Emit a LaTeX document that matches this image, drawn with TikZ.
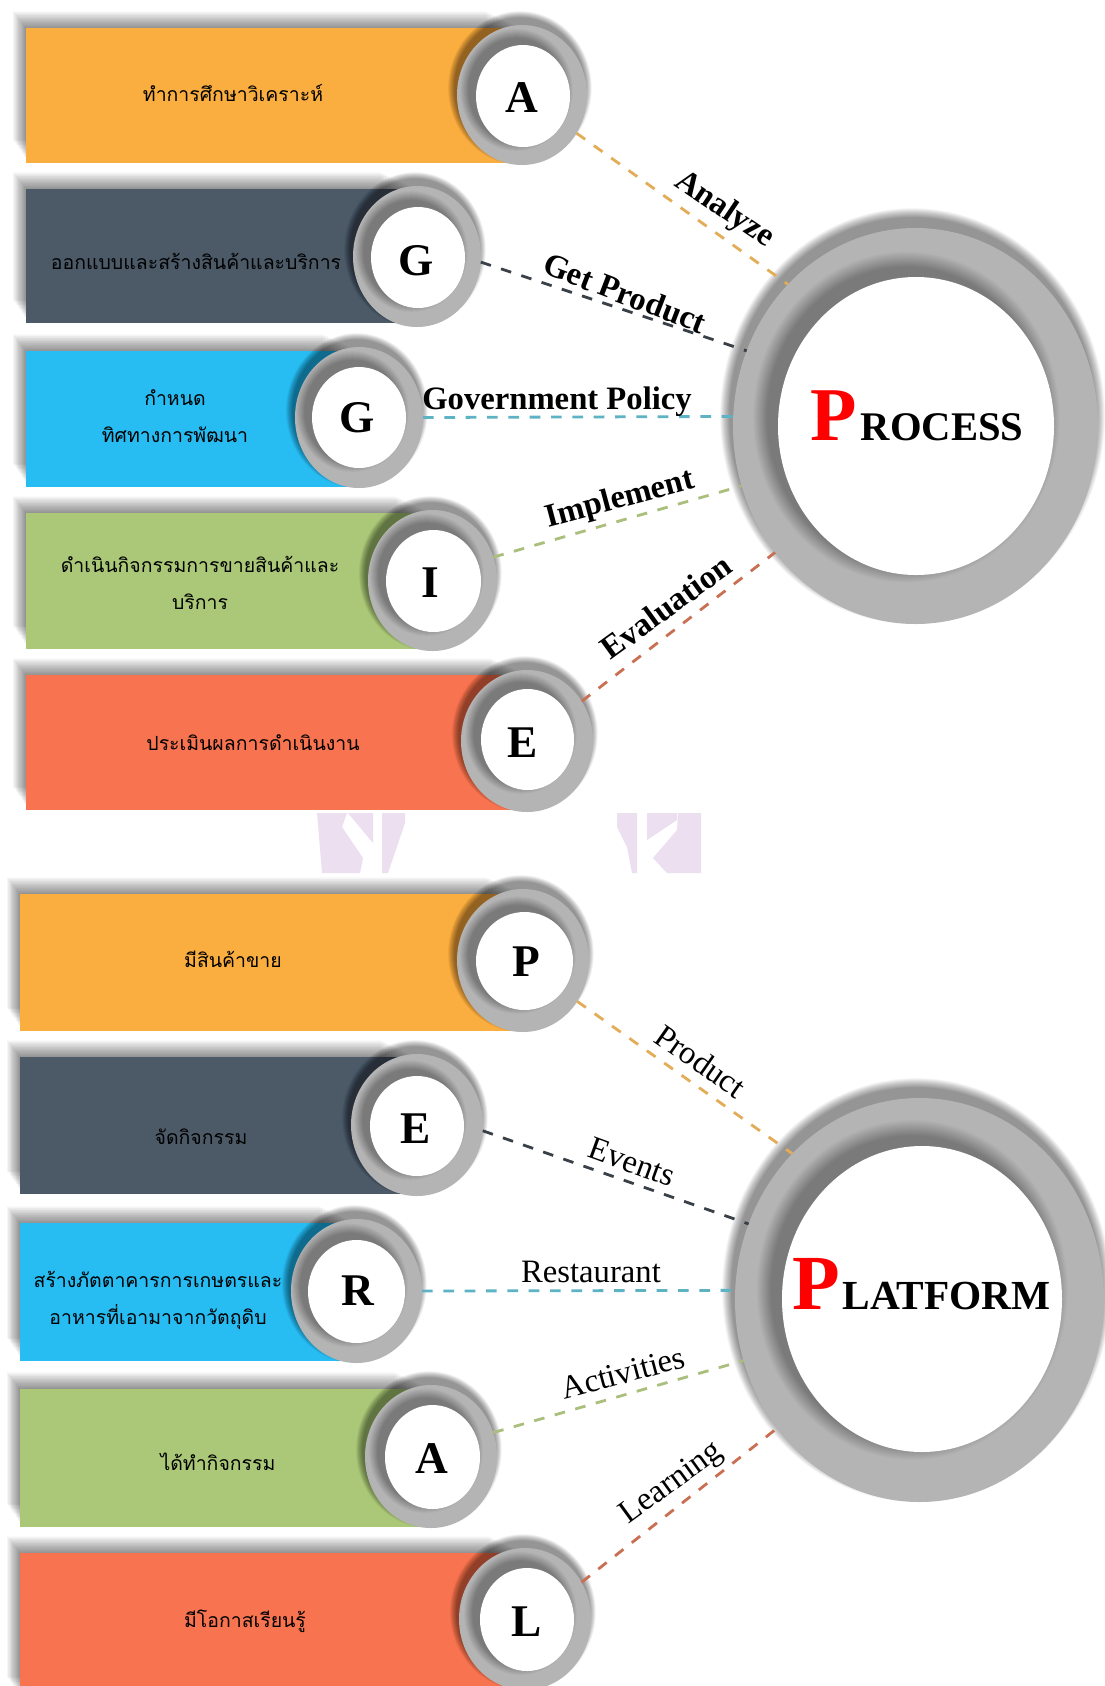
\documentclass[tikz,border=0pt]{standalone}
\usetikzlibrary{shapes.geometric}
\usepackage{fontspec}
\setmainfont{Liberation Serif}
\newfontfamily\thaifont[Script=Thai]{Loma}
\definecolor{cOrange}{HTML}{FBAE40}
\definecolor{cDark}{HTML}{4C5A68}
\definecolor{cBlue}{HTML}{27BCF2}
\definecolor{cGreen}{HTML}{AAC877}
\definecolor{cRed}{HTML}{F87450}
\definecolor{cRing}{HTML}{B4B4B4}
\definecolor{cMark}{HTML}{EBDFF0}
\definecolor{lOrange}{HTML}{E3AC56}
\definecolor{lDark}{HTML}{3A4048}
\definecolor{lTeal}{HTML}{5DB2C4}
\definecolor{lGreen}{HTML}{ABBF7D}
\definecolor{lRed}{HTML}{C96F52}
\tikzset{
  outerdisc/.style={ellipse,fill=cRing,inner sep=0pt,outer sep=0pt},
  innerdisc/.style={ellipse,fill=white,inner sep=0pt,outer sep=0pt},
  barbox/.style={rectangle,anchor=north west,inner sep=0pt,outer sep=0pt},
  thaitext/.style={align=center,text=black,inner sep=0pt,font=\thaifont\fontsize{14.6}{27.75}\selectfont},
  letterlabel/.style={anchor=base,inner sep=0pt,font=\bfseries\fontsize{34}{36}\selectfont},
  boldlabel/.style={inner sep=0pt,font=\bfseries\fontsize{24.5}{26}\selectfont},
  plainlabel/.style={inner sep=0pt,font=\fontsize{24.5}{26}\selectfont},
  titlelabel/.style={anchor=base west,inner sep=0pt},
  dashline/.style={line width=2.1pt,dash pattern=on 8pt off 8pt}
}
% name, x0, y0, y1, xr, colour
\newcommand\stripbar[6]{%
  \foreach \k in {1,...,24}{
    \fill[black,opacity=.02] ({#2-\k*.55},{#3-\k*.7}) rectangle ({#5-\k*1.5},{#4-4-\k*.8});
  }
  \node[barbox,fill=#6,minimum width={(#5-#2)*.75pt},minimum height={(#4-#3)*.75pt}] (#1) at (#2,#3) {};
}
% name, cx, cy, rx, ry, icx, icy, irx, iry
\newcommand\discring[9]{%
  \pgfmathsetmacro\ss{#4<100 ? 7 : 10}%
  \pgfmathsetmacro\so{#4<100 ? .14 : .07}%
  \pgfmathsetmacro\sg{#4<100 ? .2 : .11}%
  \pgfmathsetmacro\sa{#4<100 ? .017 : .014}%
  \foreach \k in {1,...,24}{
    \fill[black,opacity=.02] ({#2-\ss*.3},{#3-\ss}) ellipse [x radius={#4+\k*\ss/24}, y radius={#5+\k*\ss/24}];
  }
  \node[outerdisc,minimum width={#4*1.5pt},minimum height={#5*1.5pt}] (#1) at (#2,#3) {};
  \begin{scope}
    \clip (#2,#3) ellipse [x radius=#4, y radius=#5];
    \foreach \k in {1,...,20}{
      \fill[black,opacity=\sa] ({#6-#8*\so},{#7-#9*\so*.85}) ellipse [x radius={#8+\k*#8*\sg/20}, y radius={#9+\k*#9*\sg/20}];
    }
  \end{scope}
  \node[innerdisc,minimum width={#8*1.5pt},minimum height={#9*1.5pt}] (#1-in) at (#6,#7) {};
}
\begin{document}
\begin{tikzpicture}[x=.75pt,y=-.75pt]
\useasboundingbox (0,0) rectangle (1105,1686);
\fill[white] (0,0) rectangle (1105,1686);

% watermark
\fill[cMark] (317,813) -- (347,813) -- (342,827) -- (363,858) -- (360,873) -- (322,873) -- cycle;
\fill[cMark] (348,813) -- (373,813) -- (373,843) -- cycle;
\fill[cMark] (382,813) -- (405,813) -- (405,823) -- (388,873) -- (382,873) -- cycle;
\fill[cMark] (617,813) -- (637,813) -- (637,873) -- (632,873) -- (627,847) -- (617,827) -- cycle;
\fill[cMark] (647,813) -- (677,813) -- (677,820) -- (647,840) -- cycle;
\fill[cMark] (678,813) -- (701,813) -- (701,873) -- (667,873) -- (653,858) -- (677,830) -- cycle;

% upper bars
\stripbar{b1}{26}{28}{163}{522}{cOrange}
\stripbar{b2}{26}{189}{323}{417}{cDark}
\stripbar{b3}{26}{351}{487}{359}{cBlue}
\stripbar{b4}{26}{513}{649}{432}{cGreen}
\stripbar{b5}{26}{675}{810}{527}{cRed}
% lower bars
\stripbar{b6}{20}{894}{1031}{523}{cOrange}
\stripbar{b7}{20}{1057}{1194}{417}{cDark}
\stripbar{b8}{20}{1223}{1361}{356}{cBlue}
\stripbar{b9}{20}{1389}{1527}{431}{cGreen}
\stripbar{b10}{20}{1553}{1700}{525}{cRed}

% upper rings
\discring{r1}{522}{95}{65}{70}{523}{96}{47}{51}
\discring{r2}{417}{256.5}{64}{70.5}{418}{257.5}{47}{50.5}
\discring{r3}{359}{417.5}{64}{70.5}{359}{417.5}{47}{50.5}
\discring{r4}{432.5}{580.5}{64.5}{70.5}{433.5}{581}{47.5}{51}
\discring{r5}{527}{741}{66}{71}{527.5}{739.5}{46.5}{50.5}
% lower rings
\discring{r6}{523}{960.5}{66}{71.5}{524.5}{961}{48.5}{49}
\discring{r7}{417}{1125}{66}{71}{417}{1126}{47}{50}
\discring{r8}{356.5}{1291}{65.5}{72}{356.5}{1291.5}{48.5}{51.5}
\discring{r9}{431}{1456.5}{66}{71.5}{432.5}{1457}{47.5}{52}
\discring{r10}{525}{1619}{66}{71}{527}{1619.5}{47}{51.5}
% big rings
\discring{bigA}{915.5}{426}{182.5}{198}{916}{426}{138}{149}
\discring{bigB}{919.5}{1300}{184.5}{202}{922}{1299}{140}{153}

% connectors
\draw[dashline,lOrange] (r1.-35) -- (bigA.132);
\draw[dashline,lDark] (r2.-5) -- (bigA.156);
\draw[dashline,lTeal] (r3.0) -- (bigA.177);
\draw[dashline,lGreen] (r4.21) -- (bigA.199);
\draw[dashline,lRed] (r5.36) -- (bigA.222);
\draw[dashline,lOrange] (r6.-37) -- (bigB.131);
\draw[dashline,lDark] (r7.-5) -- (bigB.156);
\draw[dashline,lTeal] (r8.0) -- (bigB.177);
\draw[dashline,lGreen] (r9.21) -- (bigB.199);
\draw[dashline,lRed] (r10.33) -- (bigB.222);

% bar texts
\node[thaitext] (t1) at (233,93) {ทำการศึกษาวิเคราะห์};
\node[thaitext] (t2) at (196,261) {ออกแบบและสร้างสินค้าและบริการ};
\node[thaitext] (t3) at (175,416) {กำหนด\\ทิศทางการพัฒนา};
\node[thaitext] (t4) at (200,583) {ดำเนินกิจกรรมการขายสินค้าและ\\บริการ};
\node[thaitext] (t5) at (253,743) {ประเมินผลการดำเนินงาน};
\node[thaitext] (t6) at (233,959) {มีสินค้าขาย};
\node[thaitext] (t7) at (201,1137) {จัดกิจกรรม};
\node[thaitext] (t8) at (158,1300) {สร้างภัตตาคารการเกษตรและ\\อาหารที่เอามาจากวัตถุดิบ};
\node[thaitext] (t9) at (218,1462) {ได้ทำกิจกรรม};
\node[thaitext] (t10) at (245,1621) {มีโอกาสเรียนรู้};

% ring letters
\node[letterlabel] (c1) at (522,112) {A};
\node[letterlabel] (c2) at (416,275) {G};
\node[letterlabel] (c3) at (357,432) {G};
\node[letterlabel] (c4) at (430,597) {I};
\node[letterlabel] (c5) at (523,757) {E};
\node[letterlabel] (c6) at (526,976) {P};
\node[letterlabel] (c7) at (416,1143) {E};
\node[letterlabel] (c8) at (358,1305) {R};
\node[letterlabel] (c9) at (432,1473) {A};
\node[letterlabel] (c10) at (527,1636) {L};

% connector labels
\node[boldlabel,rotate=-34] (l1) at (724,210) {Analyze};
\node[boldlabel,rotate=-21] (l2) at (625,293) {Get Product};
\node[boldlabel] (l3) at (557,402) {Government Policy};
\node[boldlabel,rotate=15] (l4) at (620,500) {Implement};
\node[boldlabel,rotate=36] (l5) at (666,607) {Evaluation};
\node[plainlabel,rotate=-35] (l6) at (701,1061) {Product};
\node[plainlabel,rotate=-20] (l7) at (632,1162) {Events};
\node[plainlabel] (l8) at (591,1272) {Restaurant};
\node[plainlabel,rotate=15] (l9) at (623,1373) {Activities};
\node[plainlabel,rotate=36] (l10) at (672,1484) {Learning};

% titles
\node[titlelabel] (w1) at (810,440) {\bfseries{\color{red}\fontsize{57}{60}\selectfont P}\hspace{3pt}{\fontsize{30.5}{32}\selectfont ROCESS}};
\node[titlelabel] (w2) at (792,1309) {\bfseries{\color{red}\fontsize{58.5}{60}\selectfont P}\hspace{2pt}{\fontsize{31}{32}\selectfont LATFORM}};
\end{tikzpicture}
\end{document}
